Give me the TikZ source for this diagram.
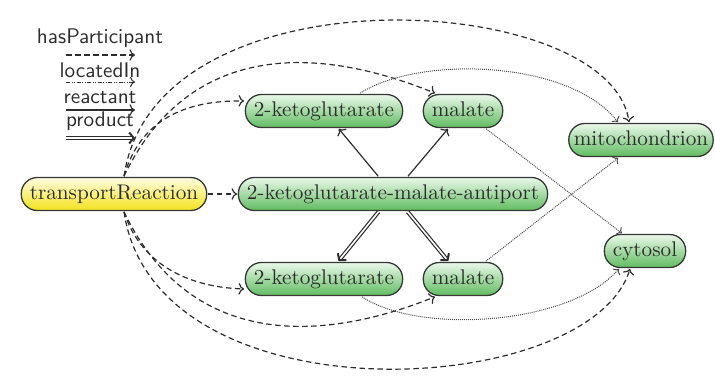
\documentclass[tikz,border=0pt]{standalone}
\usetikzlibrary{arrows.meta}
\definecolor{gtop}{RGB}{234,248,234}
\definecolor{gbot}{RGB}{96,188,96}
\definecolor{ytop}{RGB}{255,253,225}
\definecolor{ybot}{RGB}{244,226,30}
\definecolor{edge}{RGB}{55,55,55}
\definecolor{ink}{RGB}{45,45,45}
\begin{document}
\begin{tikzpicture}[x=1pt,y=-1pt,
  box/.style={draw=edge, line width=1.3pt, rounded corners=16pt, scale=2,
    font=\fontsize{10.6}{12.7}\selectfont, text=ink, minimum height=16.5pt,
    text height=7.2pt, text depth=2pt, inner xsep=4.25pt, inner ysep=0pt},
  gbox/.style={box, top color=gtop, bottom color=gbot},
  ybox/.style={box, top color=ytop, bottom color=ybot},
  lbl/.style={scale=2, font=\sffamily\fontsize{10.6}{12.7}\selectfont, text=ink, inner sep=0pt},
  part/.style={draw=ink, line width=1.2pt, dash pattern=on 5.5pt off 3.5pt, -{To[scale=1.3]}},
  loc/.style={draw=ink!85, line width=1pt, dash pattern=on 1pt off 1pt, -{To[scale=1.2]}},
  legloc/.style={draw=ink, line width=1pt, dash pattern=on 4pt off 1.5pt on 1pt off 1.5pt on 1pt off 1.5pt, -{To[scale=1.3]}},
  react/.style={draw=ink, line width=1.2pt, -{To[scale=1.3]}},
  prod/.style={draw=ink, line width=1.2pt, double, double distance=1.6pt,
    -{Straight Barb[length=4.5pt, width=11pt, line width=2pt]}},
]
\useasboundingbox (0,0) rectangle (715,378);

% legend
\node[lbl] (lp) at (100,38) {hasParticipant};
\node[lbl] (ll) at (100,70) {locatedIn};
\node[lbl] (lr) at (100,98) {reactant};
\node[lbl] (lq) at (100,121) {product};
\coordinate (l1a) at (66,55);  \coordinate (l1b) at (135,55);
\coordinate (l2a) at (66,82);  \coordinate (l2b) at (135,82);
\coordinate (l3a) at (66,110); \coordinate (l3b) at (135,110);
\coordinate (l4a) at (66,138); \coordinate (l4b) at (135,138);
\draw[part] (l1a) -- (l1b);
\draw[legloc] (l2a) -- (l2b);
\draw[react] (l3a) -- (l3b);
\draw[prod] (l4a) -- (l4b);

% nodes
\node[ybox] (T) at (114,194) {transportReaction};
\node[gbox] (A) at (393,194) {2-ketoglutarate-malate-antiport};
\node[gbox] (k1) at (324,111) {2-ketoglutarate};
\node[gbox] (m1) at (463,111) {malate};
\node[gbox] (k2) at (324,279) {2-ketoglutarate};
\node[gbox] (m2) at (463,279) {malate};
\node[gbox, inner xsep=2.5pt] (mi) at (641,140) {mitochondrion};
\node[gbox] (cy) at (645,251) {cytosol};

% hasParticipant
\draw[part] (T) -- (A);
\draw[part] ([xshift=10pt]T.north) .. controls (140,120) and (185,100) .. ([yshift=10pt]k1.west);
\draw[part] ([xshift=10pt]T.north) .. controls (182,55) and (297,37) .. ([xshift=-28pt]m1.north);
\draw[part] ([xshift=10pt]T.north) .. controls (155,-35) and (610,-10) .. ([xshift=-12pt]mi.north);
\draw[part] ([xshift=10pt]T.south) .. controls (140,262) and (185,287) .. ([yshift=-10pt]k2.west);
\draw[part] ([xshift=10pt]T.south) .. controls (182,333) and (297,352) .. ([xshift=-28pt]m2.south);
\draw[part] ([xshift=10pt]T.south) .. controls (155,423) and (590,400) .. ([xshift=-15pt]cy.south);

% locatedIn
\draw[loc] ([xshift=36pt]k1.north) .. controls (420,55) and (570,60) .. ([xshift=-23pt]mi.north);
\draw[loc] ([xshift=38pt]k2.south) .. controls (420,335) and (570,325) .. ([xshift=-26pt]cy.south);
\draw[loc] (m1) -- (cy);
\draw[loc] (m2) -- (mi);

% reactant / product
\draw[react] (A) -- (k1);
\draw[react] (A) -- (m1);
\draw[prod] (A) -- (k2);
\draw[prod] (A) -- (m2);
\end{tikzpicture}
\end{document}
